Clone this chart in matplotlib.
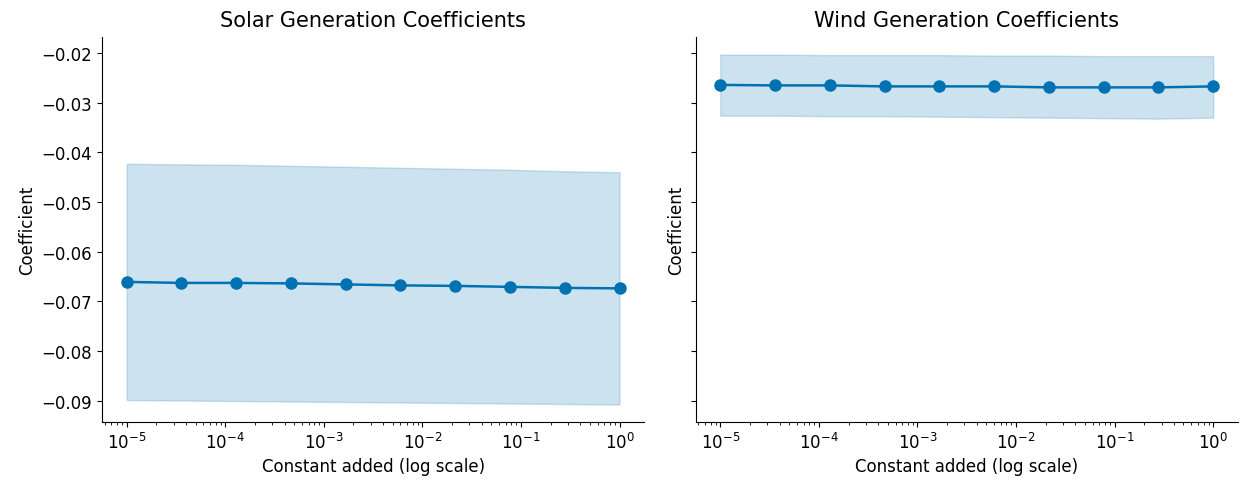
import numpy as np
import matplotlib.pyplot as plt
plt.rcParams['font.size'] = 12

# constants added before the log transform
constants = [1e-5, 3.59e-5, 1.29e-4, 4.64e-4, 1.67e-3, 5.99e-3, 2.15e-2, 7.74e-2, 2.78e-1, 1.0]

solar_coef = [-0.0661, -0.0663, -0.0663, -0.0664, -0.0666, -0.0668, -0.0669, -0.0671, -0.0673, -0.0674]
solar_upper = [-0.0423, -0.0424, -0.0425, -0.0427, -0.0429, -0.0431, -0.0433, -0.0435, -0.0438, -0.0440]
solar_lower = [-0.0899, -0.0900, -0.0901, -0.0902, -0.0903, -0.0904, -0.0905, -0.0906, -0.0907, -0.0908]

wind_coef = [-0.0264, -0.0265, -0.0265, -0.0267, -0.0267, -0.0267, -0.0269, -0.0269, -0.0269, -0.0267]
wind_upper = [-0.0203, -0.0203, -0.0204, -0.0204, -0.0204, -0.0205, -0.0205, -0.0206, -0.0206, -0.0206]
wind_lower = [-0.0326, -0.0326, -0.0327, -0.0327, -0.0328, -0.0329, -0.0330, -0.0331, -0.0332, -0.0330]

blue = '#0072B2'

fig, axes = plt.subplots(1, 2, figsize=(12.44, 4.89), dpi=100, sharey=True)
fig.subplots_adjust(left=0.082, right=0.995, bottom=0.135, top=0.922, wspace=0.095)

panels = [
    (axes[0], solar_coef, solar_lower, solar_upper, 'Solar Generation Coefficients'),
    (axes[1], wind_coef, wind_lower, wind_upper, 'Wind Generation Coefficients'),
]
for ax, coef, lo, hi, title in panels:
    ax.fill_between(constants, lo, hi, color=blue, alpha=0.2)
    ax.plot(constants, coef, marker='o', color=blue, linewidth=1.8, markersize=8)
    ax.set_xscale('log')
    ax.set_title(title, fontsize=15, pad=8)
    ax.set_xlabel('Constant added (log scale)')
    ax.set_ylabel('Coefficient')
    ax.spines['top'].set_visible(False)
    ax.spines['right'].set_visible(False)

plt.savefig('out.png')
